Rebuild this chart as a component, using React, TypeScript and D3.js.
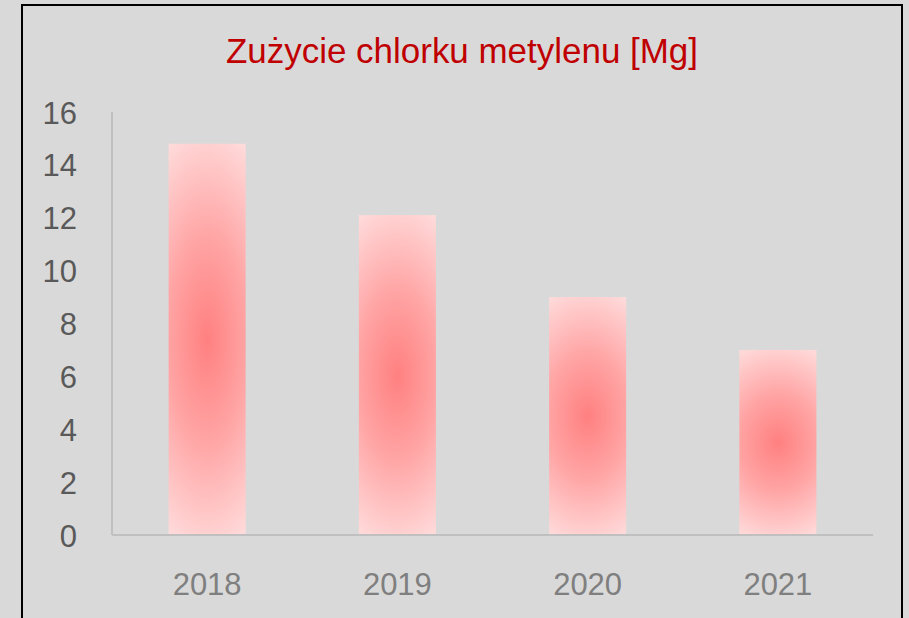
import React from "react";
import * as d3 from "d3";

const categories = ["2018", "2019", "2020", "2021"];
const values = [14.8, 12.1, 9.0, 7.0];
const yTicks = [0, 2, 4, 6, 8, 10, 12, 14, 16];
const title = "Zużycie chlorku metylenu [Mg]";

export default function App() {
  const W = 909;
  const H = 618;
  const plot = { left: 112, right: 873, top: 112, bottom: 535 };
  const x = d3
    .scaleBand<string>()
    .domain(categories)
    .range([plot.left, plot.right])
    .paddingInner(0.595)
    .paddingOuter(0.2975);
  const y = d3.scaleLinear().domain([0, 16]).range([plot.bottom, plot.top]);
  const font = "'Liberation Sans', Arial, sans-serif";

  return (
    <svg
      width={W}
      height={H}
      viewBox={`0 0 ${W} ${H}`}
      style={{ position: "absolute", left: 0, top: 0, display: "block" }}
    >
      <defs>
        <radialGradient
          id="barGrad"
          gradientUnits="objectBoundingBox"
          cx="0.5"
          cy="0.5"
          r="0.56"
          gradientTransform="translate(0.5,0.5) scale(2,1) translate(-0.5,-0.5)"
        >
          <stop offset="0" stopColor="#ff8080" />
          <stop offset="0.45" stopColor="#ffa3a3" />
          <stop offset="1" stopColor="#ffdcdc" />
        </radialGradient>
      </defs>
      <rect x={0} y={0} width={W} height={H} fill="#d9d9d9" />
      <rect
        x={22}
        y={5}
        width={880}
        height={H + 20}
        fill="#d9d9d9"
        stroke="#000"
        strokeWidth={2}
      />
      <text
        x={462}
        y={63}
        textAnchor="middle"
        fill="#c00000"
        fontFamily={font}
        fontSize={35}
        textLength={472}
        lengthAdjust="spacingAndGlyphs"
      >
        {title}
      </text>
      {categories.map((c, i) => (
        <rect
          key={c}
          x={x(c)}
          y={y(values[i])}
          width={x.bandwidth()}
          height={y(0) - y(values[i])}
          fill="url(#barGrad)"
        />
      ))}
      <line
        x1={plot.left}
        x2={plot.left}
        y1={plot.top}
        y2={plot.bottom}
        stroke="#c0c0c0"
        strokeWidth={2}
      />
      <line
        x1={plot.left}
        x2={plot.right}
        y1={plot.bottom}
        y2={plot.bottom}
        stroke="#c0c0c0"
        strokeWidth={2}
      />
      {yTicks.map((t) => (
        <text
          key={t}
          x={77}
          y={y(t) + 11.5}
          textAnchor="end"
          fill="#595959"
          fontFamily={font}
          fontSize={31}
        >
          {t}
        </text>
      ))}
      {categories.map((c) => (
        <text
          key={c}
          x={(x(c) as number) + x.bandwidth() / 2}
          y={595}
          textAnchor="middle"
          fill="#7f7f7f"
          fontFamily={font}
          fontSize={31}
        >
          {c}
        </text>
      ))}
    </svg>
  );
}
